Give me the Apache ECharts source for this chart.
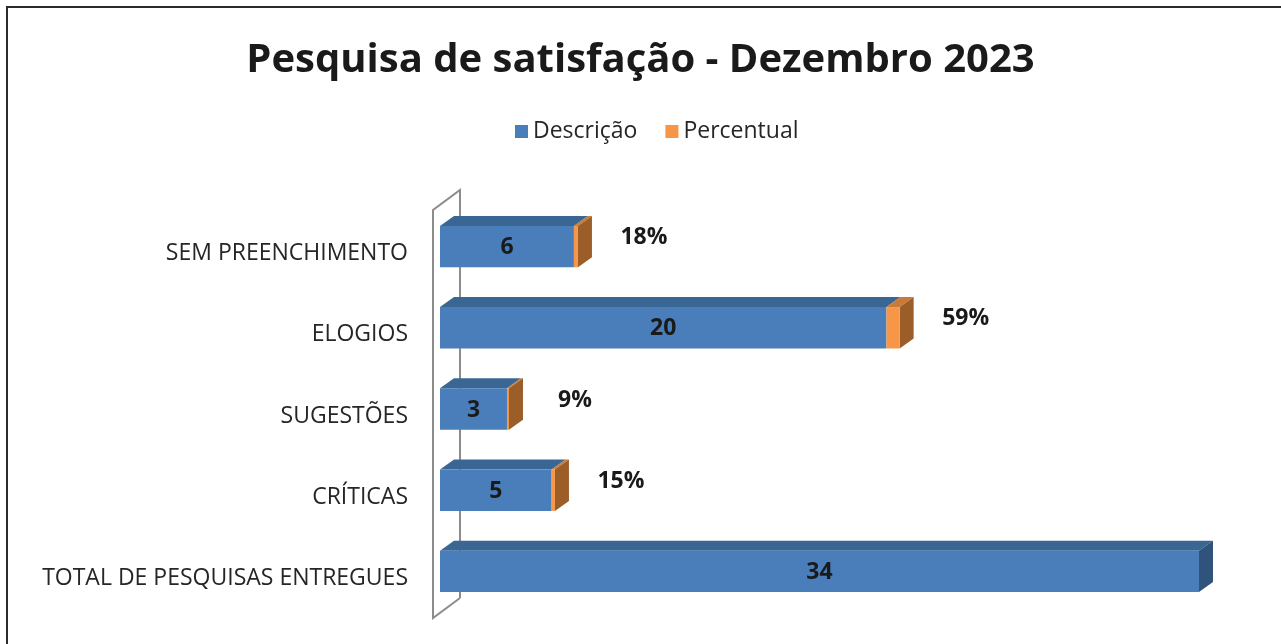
<!DOCTYPE html>
<html>
<head>
<meta charset="utf-8">
<script src="https://cdn.jsdelivr.net/npm/echarts@6/dist/echarts.min.js"></script>
<style>
  html, body { margin: 0; padding: 0; background: #fff; }
  #chart { width: 1281px; height: 644px; }
</style>
</head>
<body>
<div id="chart"></div>
<script>
var categories = ['SEM PREENCHIMENTO', 'ELOGIOS', 'SUGESTÕES', 'CRÍTICAS', 'TOTAL DE PESQUISAS ENTREGUES'];
var descricao = [6, 20, 3, 5, 34];
var percentual = [0.18, 0.59, 0.09, 0.15, null];
var percentLabels = ['18%', '59%', '9%', '15%', ''];

var FONT = 'Open Sans';
var DX = 14, DY = 10;   // profundidade 3d

var blue = { front: '#4a7ebb', top: '#3a6694', side: '#30537c' };
var orange = { front: '#f79646', top: '#c97a37', side: '#9b5e29' };

function box(api, start, end, cat, col, withSide) {
	var p0 = api.coord([start, cat]);
	var p1 = api.coord([end, cat]);
	var h = api.size([0, 1])[1] * 0.51;
	var y0 = p0[1] - h / 2, y1 = p0[1] + h / 2;
	var x0 = p0[0], x1 = p1[0];
	var kids = [];
	kids.push({
		type: 'polygon',
		shape: { points: [[x0, y0], [x0 + DX, y0 - DY], [x1 + DX, y0 - DY], [x1, y0]] },
		style: { fill: col.top }
	});
	if (withSide) {
		kids.push({
			type: 'polygon',
			shape: { points: [[x1, y0], [x1 + DX, y0 - DY], [x1 + DX, y1 - DY], [x1, y1]] },
			style: { fill: col.side }
		});
	}
	kids.push({
		type: 'rect',
		shape: { x: x0, y: y0, width: x1 - x0, height: y1 - y0 },
		style: { fill: col.front }
	});
	return { kids: kids, x0: x0, x1: x1, y: p0[1] };
}

var descData = [], percData = [];
for (var i = 0; i < categories.length; i++) {
	descData.push([0, descricao[i], i, percentual[i] == null ? 1 : 0]);
	if (percentual[i] != null) {
		percData.push([descricao[i], descricao[i] + percentual[i], i, percentLabels[i]]);
	}
}

var chart = echarts.init(document.getElementById('chart'));

var option = {
	backgroundColor: '#fff',
	animation: false,
	title: {
		text: 'Pesquisa de satisfação - Dezembro 2023',
		left: 'center',
		top: 36,
		textStyle: { fontFamily: FONT, fontSize: 40, fontWeight: 'bold', color: '#1a1a1a' }
	},
	legend: {
		top: 115,
		left: 510,
		itemWidth: 13,
		itemHeight: 13,
		itemGap: 28,
		textStyle: { fontFamily: FONT, fontSize: 23, color: '#262626' },
		data: [{ name: 'Descrição', icon: 'rect' }, { name: 'Percentual', icon: 'rect' }]
	},
	grid: { left: 440, right: 82, top: 206, bottom: 32, containLabel: false },
	xAxis: { type: 'value', min: 0, max: 34, show: false },
	yAxis: {
		type: 'category',
		inverse: true,
		data: categories,
		axisLine: { show: false },
		axisTick: { show: false },
		axisLabel: {
			margin: 32,
			formatter: function (v) { return '{a|' + v + '}'; },
			rich: { a: { padding: [14, 0, 0, 0], fontFamily: FONT, fontSize: 23, color: '#262626' } }
		}
	},
	graphic: [{
		type: 'rect',
		shape: { x: 7, y: 7, width: 1300, height: 700 },
		style: { fill: 'none', stroke: '#2b2b2b', lineWidth: 2 },
		silent: true
	}],
	series: [
		{
			type: 'custom',
			name: 'wall',
			data: [[0, 0]],
			silent: true,
			z: 1,
			renderItem: function (params, api) {
				var cs = params.coordSys;
				var gx = cs.x, gy = cs.y, gh = cs.height;
				return {
					type: 'polyline',
					shape: { points: [[gx + 20, gy + gh - 14], [gx - 7, gy + gh + 6], [gx - 7, gy + 4], [gx + 20, gy - 16], [gx + 20, gy + gh - 14]] },
					style: { fill: 'none', stroke: '#8c8c8c', lineWidth: 2 }
				};
			}
		},
		{
			type: 'custom',
			name: 'Descrição',
			itemStyle: { color: blue.front },
			data: descData,
			z: 3,
			renderItem: function (params, api) {
				var b = box(api, api.value(0), api.value(1), api.value(2), blue, api.value(3) === 1);
				b.kids.push({
					type: 'text',
					style: {
						text: String(api.value(1)),
						x: (b.x0 + b.x1) / 2, y: b.y + 1,
						align: 'center', verticalAlign: 'middle',
						font: 'bold 23px "' + FONT + '"', fill: '#1a1a1a'
					},
					z2: 10
				});
				return { type: 'group', children: b.kids };
			}
		},
		{
			type: 'custom',
			name: 'Percentual',
			itemStyle: { color: orange.front },
			data: percData,
			z: 4,
			renderItem: function (params, api) {
				var b = box(api, api.value(0), api.value(1), api.value(2), orange, true);
				b.kids.push({
					type: 'text',
					style: {
						text: percentLabels[api.value(2)],
						x: b.x1 + 66, y: b.y - 9,
						align: 'center', verticalAlign: 'middle',
						font: 'bold 23px "' + FONT + '"', fill: '#1a1a1a'
					}
				});
				return { type: 'group', children: b.kids };
			}
		}
	]
};

chart.setOption(option);
</script>
</body>
</html>
